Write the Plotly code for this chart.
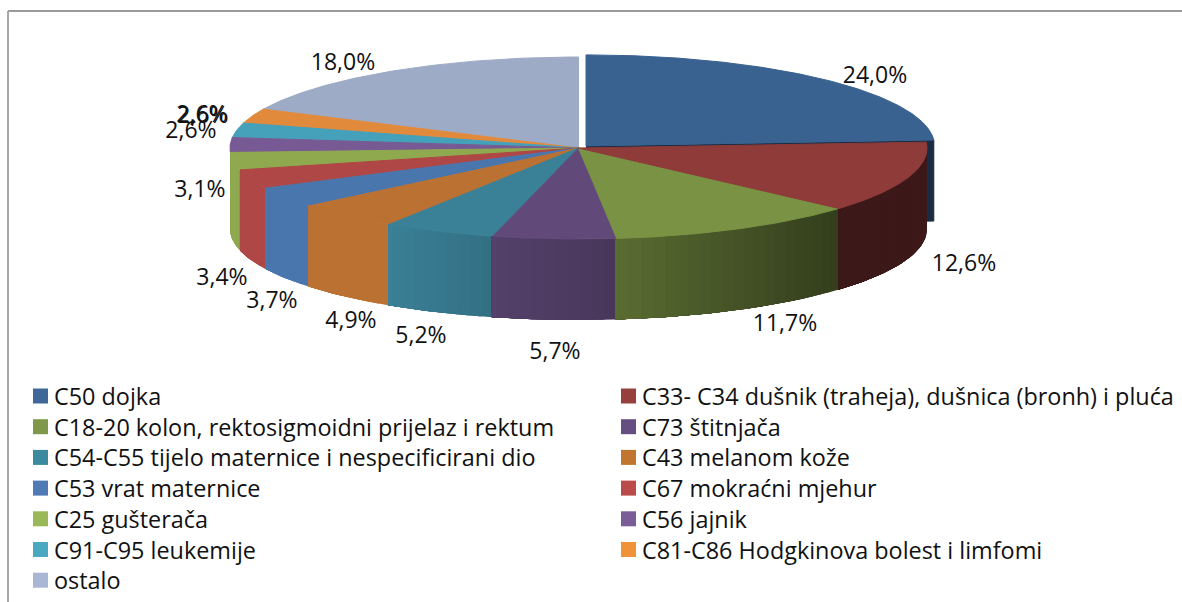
import numpy as np
import plotly.graph_objects as go

# ---------- data ----------
categories = [
    "C50 dojka",
    "C33- C34 dušnik (traheja), dušnica (bronh) i pluća",
    "C18-20 kolon, rektosigmoidni prijelaz i rektum",
    "C73 štitnjača",
    "C54-C55 tijelo maternice i nespecificirani dio",
    "C43 melanom kože",
    "C53 vrat maternice",
    "C67 mokraćni mjehur",
    "C25 gušterača",
    "C56 jajnik",
    "C91-C95 leukemije",
    "C81-C86 Hodgkinova bolest i limfomi",
    "ostalo",
]
values = [24.0, 12.6, 11.7, 5.7, 5.2, 4.9, 3.7, 3.4, 3.1, 2.6, 2.6, 2.6, 18.0]

top_colors = ["#3a6290", "#8e3b3a", "#7a9243", "#614a7a", "#3a8097", "#bb7132", "#4a76ae",
              "#ae4745", "#8fa94f", "#775a93", "#45a0b9", "#e28a3c", "#9eabc7"]
legend_colors = ["#3f6797", "#963f3d", "#7f984a", "#654e82", "#3c8aa0", "#c0762f", "#4f7ab5",
                 "#b94c49", "#9ab857", "#7a5c99", "#48a9c1", "#ef9238", "#a9b7d4"]

# ---------- layout constants (pixels) ----------
W, H = 1182, 602
CX, CY, RX, RY, DEPTH = 578.5, 148.0, 348.5, 91.0, 81.0
EXPLODE = 11.0
FONT = "Open Sans"
SHADE_X = [388, 493, 615, 838, 930]
SHADE_F = [1.0, 0.87, 0.74, 0.42, 0.42]
LABEL_DY = 2.5
LABEL_XY = [(875, 75), (964, 263), (785, 323), (555, 351), (421, 335), (351, 320), (272, 300),
            (222, 277), (200, 189), (191, 130), (202, 114), (203, 115), (343, 62)]
LEG_X = [33, 621]
LEG_Y0, LEG_DY, LEG_SIZE, LEG_GAP = 396.0, 30.7, 15, 4


def shade(hex_color, f):
    rgb = [int(hex_color[i:i + 2], 16) for i in (1, 3, 5)]
    return "rgb({},{},{})".format(*[int(round(c * f)) for c in rgb])


def rim(a, cx, cy):
    a = np.radians(a)
    return cx + RX * np.sin(a), cy - RY * np.cos(a)


def poly(fig, xs, ys, color, width=1):
    fig.add_trace(go.Scatter(x=list(xs), y=list(ys), mode="lines", fill="toself", fillcolor=color,
                             line=dict(color=color, width=width), hoverinfo="skip", showlegend=False))


fig = go.Figure()
edges = np.cumsum([0] + values) / sum(values) * 360

for i in [0] + list(range(len(values) - 1, 0, -1)):
    a0, a1 = edges[i], edges[i + 1]
    cx, cy = CX, CY
    if i == 0:
        mid = np.radians((a0 + a1) / 2)
        cx += EXPLODE * np.sin(mid)
        cy -= EXPLODE * np.cos(mid) * RY / RX
        # radial cut face visible behind the next slice
        rx_, ry_ = rim(a1, cx, cy)
        poly(fig, [cx, rx_, rx_, cx], [cy, ry_, ry_ + DEPTH, cy + DEPTH], shade(top_colors[i], 0.45))
    # outer side: each strip runs to the slice end, so the next strip paints over it without a seam
    s0, s1 = max(a0, 90), min(a1, 270)
    if s1 > s0:
        starts = np.arange(s0, s1, 2.0)
        for b0 in starts:
            arc = np.linspace(b0, s1 + 0.2, 40)
            x, y = rim(arc, cx, cy)
            fx = rim(b0 + 1.0, cx, cy)[0]
            f = float(np.interp(fx, SHADE_X, SHADE_F))
            poly(fig, np.r_[x, x[::-1]], np.r_[y, y[::-1] + DEPTH], shade(top_colors[i], f), width=0)
    # top face
    arc = np.linspace(a0, a1, max(8, int(a1 - a0) * 2))
    x, y = rim(arc, cx, cy)
    poly(fig, np.r_[cx, x, cx], np.r_[cy, y, cy], top_colors[i])

# data labels
fig.add_trace(go.Scatter(
    x=[p[0] for p in LABEL_XY], y=[p[1] + LABEL_DY for p in LABEL_XY], mode="text",
    text=[f"{v:.1f}%".replace(".", ",") for v in values], textposition="middle center",
    textfont=dict(family=FONT, size=23, color="#111111"), hoverinfo="skip", showlegend=False))

# legend, two columns filled row by row
for k, (name, col) in enumerate(zip(categories, legend_colors)):
    lx = LEG_X[k % 2]
    ly = LEG_Y0 + (k // 2) * LEG_DY
    fig.add_trace(go.Scatter(x=[lx + LEG_SIZE / 2], y=[ly], mode="markers", name=name,
                             marker=dict(symbol="square", size=LEG_SIZE, color=col, line=dict(width=0)),
                             hoverinfo="name", showlegend=False))
    fig.add_annotation(x=lx + LEG_SIZE + LEG_GAP, y=ly, text=name, xanchor="left", yanchor="middle",
                       showarrow=False, font=dict(family=FONT, size=23.4, color="#111111"))

fig.update_layout(
    width=W, height=H, margin=dict(l=0, r=0, t=0, b=0), paper_bgcolor="white", plot_bgcolor="white",
    showlegend=False,
    xaxis=dict(range=[0, W], visible=False, fixedrange=True),
    yaxis=dict(range=[H, 0], visible=False, fixedrange=True),
    shapes=[
        dict(type="line", x0=8, x1=W, y0=11, y1=11, line=dict(color="#9a9a9a", width=2)),
        dict(type="line", x0=8, x1=8, y0=11, y1=H, line=dict(color="#a8a8a8", width=2)),
    ],
)

fig.write_html("out.html", config={"displayModeBar": False},
               post_script="document.body.style.margin='0';document.body.style.overflow='hidden';")
